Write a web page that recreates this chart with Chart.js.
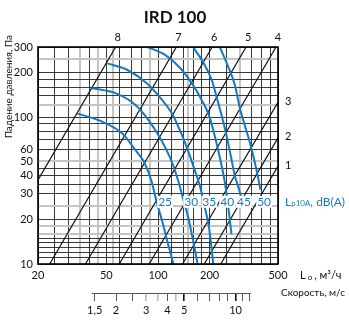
<!DOCTYPE html>
<html>
<head>
<meta charset="utf-8">
<script src="https://cdn.jsdelivr.net/npm/chart.js@4"></script>
<style>
  html, body { margin: 0; padding: 0; background: #fff; }
</style>
</head>
<body>
<canvas id="chart" width="349" height="329"></canvas>
<script>
// axis ranges and grid
const flowMin = 20, flowMax = 500;
const pressMin = 10, pressMax = 300;
const flowGrid = [20, 25, 30, 35, 40, 45, 50, 55, 60, 70, 80, 90, 100, 120, 140, 150, 160, 180, 200, 250, 300, 350, 400, 450, 500];
const flowGray = [35, 45, 55, 90, 150, 300];
const flowLabels = [20, 50, 100, 200, 500];
const pressGrid = [10, 11, 12, 13, 14, 15, 16, 18, 20, 25, 30, 35, 40, 45, 50, 60, 70, 80, 90, 100, 120, 140, 160, 180, 200, 250, 300];
const pressGray = [250, 120, 50, 25, 18, 16];
const pressLabels = [10, 20, 30, 40, 50, 60, 100, 200, 300];

// velocity scale, duct 100 mm: m3/h per m/s
const ductFactor = 28.27;
const velTicks = [1.5, 2, 2.5, 3, 3.5, 4, 4.5, 5, 6, 7, 8, 9, 10, 11, 12];
const velGray = [3, 3.5, 4.5];
const velBold = [5, 10];
const velLabels = [1.5, 2, 3, 4, 5, 10];

// system lines (black), start and end points [flow, pressure]
const sysNames = ['8', '7', '6', '5', '4', '3', '2', '1'];
const sysStart = [[20, 37.3], [23.4, 10], [37.8, 10], [59.5, 10], [88.9, 10], [139, 10], [186, 10], [232, 10]];
const sysEnd = [[56.7, 300], [128, 300], [207, 300], [326, 300], [487, 300], [500, 126], [500, 72.3], [500, 46.4]];

// sound level curves (blue)
const dbNames = ['25', '30', '35', '40', '45', '50'];
const dbFlow = [
  [33.7, 45.8, 62.2, 73, 83.5, 91.7, 98, 106, 113.5, 123],
  [41.1, 57, 74.5, 90, 105, 120, 131, 141, 151, 160, 170],
  [50.7, 66, 86, 105, 121, 135, 149, 162, 176, 187, 198, 210],
  [87, 110, 135, 160, 180, 198, 213, 230, 245, 256, 268],
  [160, 183, 206, 222, 236, 250, 265, 280, 297, 312],
  [229, 254, 280, 300, 320, 342, 365, 384, 395]
];
const dbPress = [
  [106, 94.5, 77, 60.7, 48.7, 36.6, 26.7, 19.4, 14.2, 10],
  [157.6, 145, 120, 92, 69, 50, 37, 27, 20, 14.5, 10],
  [232, 210, 170, 132, 105, 80, 60, 45, 33.5, 24.5, 17.8, 10],
  [300, 265, 215, 165, 130, 103, 76, 52, 36, 25, 16],
  [300, 237, 178, 130, 100, 76, 55, 40, 32, 26],
  [300, 226, 166, 115, 88, 68, 50, 38, 32]
];
const dbLabelFlow = [110, 156, 199, 253, 317, 415];
const dbLabelPress = 26.5;

const BLUE = '#1778c0';
const FONT = 'Lato, "Open Sans", sans-serif';

const datasets = [];
sysNames.forEach((n, i) => {
  datasets.push({
    label: 'sys' + n,
    data: [{ x: sysStart[i][0], y: sysStart[i][1] }, { x: sysEnd[i][0], y: sysEnd[i][1] }],
    borderColor: '#111', borderWidth: 1.2, pointRadius: 0, tension: 0, order: 2
  });
});
dbNames.forEach((n, i) => {
  datasets.push({
    label: 'db' + n,
    data: dbFlow[i].map((q, j) => ({ x: q, y: dbPress[i][j] })),
    borderColor: BLUE, borderWidth: 2, pointRadius: 0,
    cubicInterpolationMode: 'monotone', order: 1
  });
});

function setTicks(list) {
  return scale => { scale.ticks = list.map(v => ({ value: v })); };
}

// custom texts and frame
const extras = {
  id: 'extras',
  afterDraw(chart) {
    const { ctx, chartArea: a, scales } = chart;
    const x = scales.x, y = scales.y;
    ctx.save();
    ctx.strokeStyle = '#000';
    ctx.lineWidth = 1.6;
    ctx.strokeRect(a.left, a.top, a.right - a.left, a.bottom - a.top);

    // title
    ctx.fillStyle = '#111';
    ctx.textAlign = 'center';
    ctx.textBaseline = 'middle';
    ctx.font = 'bold 17px ' + FONT;
    ctx.fillText('IRD 100', 175, 18);

    // system line numbers
    ctx.font = '11px ' + FONT;
    sysNames.forEach((n, i) => {
      const e = sysEnd[i];
      if (e[1] >= pressMax) {
        ctx.textAlign = 'center';
        ctx.fillText(n, x.getPixelForValue(e[0]) + 2, a.top - 10);
      } else {
        ctx.textAlign = 'left';
        ctx.fillText(n, a.right + 7, y.getPixelForValue(e[1]) - 1);
      }
    });

    // y title
    ctx.save();
    ctx.translate(9, 35);
    ctx.rotate(-Math.PI / 2);
    ctx.textAlign = 'right';
    ctx.font = '10px ' + FONT;
    ctx.fillText('Падение давления, Па', 0, 0);
    ctx.restore();

    // dB labels
    ctx.font = '12px ' + FONT;
    ctx.textAlign = 'center';
    const ly = y.getPixelForValue(dbLabelPress);
    dbNames.forEach((n, i) => {
      const lx = x.getPixelForValue(dbLabelFlow[i]);
      const w = ctx.measureText(n).width;
      ctx.fillStyle = '#fff';
      ctx.fillRect(lx - w / 2 - 1, ly - 6, w + 2, 12);
      ctx.fillStyle = BLUE;
      ctx.fillText(n, lx, ly);
    });

    // Lp10A legend
    ctx.textAlign = 'left';
    let tx = a.right + 7;
    ctx.font = '12px ' + FONT;
    ctx.fillText('L', tx, ly);
    tx += ctx.measureText('L').width;
    ctx.font = '8px ' + FONT;
    ctx.fillText('p10A', tx, ly + 2);
    tx += ctx.measureText('p10A').width;
    ctx.font = '12px ' + FONT;
    ctx.fillText(', dB(A)', tx, ly);

    // flow axis title
    ctx.fillStyle = '#111';
    tx = 300;
    const fy = a.bottom + 11;
    ctx.font = '11px ' + FONT;
    ctx.fillText('L', tx, fy);
    tx += ctx.measureText('L').width + 2;
    ctx.font = '8px ' + FONT;
    ctx.fillText('o', tx, fy + 2);
    tx += ctx.measureText('o').width + 2;
    ctx.font = '11px ' + FONT;
    ctx.fillText(', м³/ч', tx, fy);

    // velocity scale line and title
    const v = scales.v;
    ctx.strokeStyle = '#555';
    ctx.lineWidth = 1;
    ctx.beginPath();
    ctx.moveTo(v.getPixelForValue(velTicks[0]) - 3, v.top + 0.5);
    ctx.lineTo(v.getPixelForValue(velTicks[velTicks.length - 1]) + 2, v.top + 0.5);
    ctx.stroke();
    ctx.font = '10px ' + FONT;
    ctx.fillText('Скорость, м/с', 281, v.top);
    ctx.restore();
  }
};

new Chart(document.getElementById('chart'), {
  type: 'line',
  data: { datasets },
  plugins: [extras],
  options: {
    responsive: false,
    animation: false,
    devicePixelRatio: 1,
    layout: { padding: { top: 47, right: 71, bottom: 6, left: 0 } },
    plugins: { legend: { display: false }, tooltip: { enabled: false } },
    scales: {
      x: {
        type: 'logarithmic', min: flowMin, max: flowMax, position: 'bottom', weight: 0,
        afterBuildTicks: setTicks(flowGrid),
        afterFit: s => { s.height = 29; },
        border: { display: false },
        grid: {
          drawTicks: false,
          color: c => flowGray.includes(c.tick.value) ? '#c4c4c4' : '#222',
          lineWidth: c => flowGray.includes(c.tick.value) ? 2 : 0.9
        },
        ticks: {
          padding: 5, autoSkip: false, maxRotation: 0, color: '#111',
          font: { family: FONT, size: 11 },
          callback: v => flowLabels.includes(v) ? String(v) : ''
        }
      },
      v: {
        type: 'logarithmic', position: 'bottom', weight: 1,
        min: flowMin / ductFactor, max: flowMax / ductFactor,
        afterBuildTicks: setTicks(velTicks),
        afterFit: s => { s.height = 30; },
        border: { display: false },
        grid: {
          drawOnChartArea: false, drawTicks: true, tickLength: 8,
          color: c => velGray.includes(c.tick.value) ? '#bbb' : (velBold.includes(c.tick.value) ? '#111' : '#555'),
          lineWidth: c => velBold.includes(c.tick.value) || velGray.includes(c.tick.value) ? 1.6 : 1
        },
        ticks: {
          padding: 3, autoSkip: false, maxRotation: 0, color: '#111',
          font: { family: FONT, size: 11 },
          callback: v => velLabels.includes(v) ? String(v).replace('.', ',') : ''
        }
      },
      y: {
        type: 'logarithmic', min: pressMin, max: pressMax,
        afterBuildTicks: setTicks(pressGrid),
        afterFit: s => { s.width = 38; },
        border: { display: false },
        grid: {
          drawTicks: false,
          color: c => pressGray.includes(c.tick.value) ? '#c4c4c4' : '#222',
          lineWidth: c => pressGray.includes(c.tick.value) ? 2 : 0.9
        },
        ticks: {
          padding: 5, autoSkip: false, color: '#111',
          font: { family: FONT, size: 11 },
          callback: v => pressLabels.includes(v) ? String(v) : ''
        }
      }
    }
  }
});
</script>
</body>
</html>
